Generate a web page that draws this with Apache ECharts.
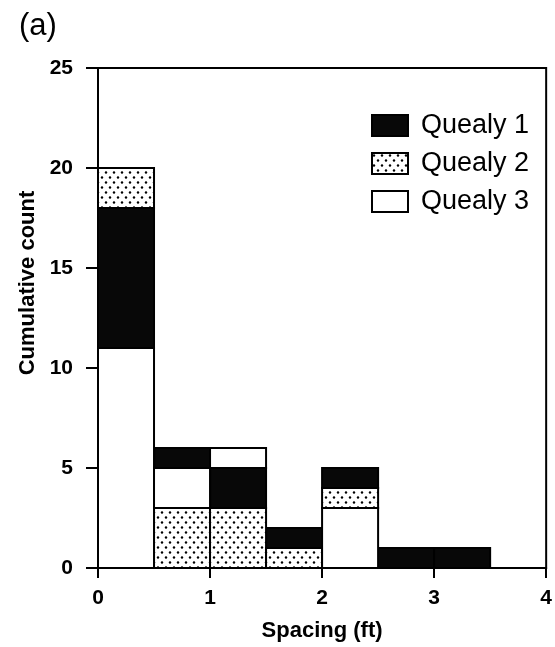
<!DOCTYPE html>
<html>
<head>
<meta charset="utf-8">
<script src="https://cdn.jsdelivr.net/npm/echarts@6/dist/echarts.min.js"></script>
<style>
  html, body { margin: 0; padding: 0; background: #fff; }
  #main { width: 555px; height: 647px; }
</style>
</head>
<body>
<div id="main"></div>
<script>
// bin left edges (ft), each bin is 0.5 ft wide
var bins = [0, 0.5, 1, 1.5, 2, 2.5, 3];
var binWidth = 0.5;
var seriesNames = ['Quealy 1', 'Quealy 2', 'Quealy 3'];
var quealy1 = [7, 1, 2, 1, 1, 1, 1];
var quealy2 = [2, 3, 3, 1, 1, 0, 0];
var quealy3 = [11, 2, 1, 0, 3, 0, 0];
// order the pieces are piled in each bin, bottom to top (1 = Quealy 1 ...)
var stackOrder = [[3, 1, 2], [2, 3, 1], [2, 1, 3], [2, 1, 3], [3, 2, 1], [1, 2, 3], [1, 2, 3]];
var xTicks = [0, 1, 2, 3, 4];
var yTicks = [0, 5, 10, 15, 20, 25];

var FONT = '"Liberation Sans", Arial, sans-serif';

function dotPattern() {
	var c = document.createElement('canvas');
	c.width = 8;
	c.height = 10;
	var g = c.getContext('2d');
	g.fillStyle = '#fff';
	g.fillRect(0, 0, 8, 10);
	g.fillStyle = '#000';
	g.beginPath();
	g.arc(2, 2.5, 1.2, 0, Math.PI * 2);
	g.fill();
	g.beginPath();
	g.arc(6, 7.5, 1.2, 0, Math.PI * 2);
	g.fill();
	return c;
}

var fills = ['#080808', { image: dotPattern(), repeat: 'repeat' }, '#ffffff'];
var counts = [quealy1, quealy2, quealy3];

// turn the counts into stacked pieces [x0, x1, y0, y1] for every series
var pieces = [[], [], []];
bins.forEach(function(b, i) {
	var base = 0;
	stackOrder[i].forEach(function(k) {
		var n = counts[k - 1][i];
		if (n > 0) {
			pieces[k - 1].push([b, b + binWidth, base, base + n]);
			base += n;
		}
	});
});

function renderPiece(fill) {
	return function(params, api) {
		var p0 = api.coord([api.value(0), api.value(2)]);
		var p1 = api.coord([api.value(1), api.value(3)]);
		return {
			type: 'rect',
			shape: { x: p0[0], y: p1[1], width: p1[0] - p0[0], height: p0[1] - p1[1] },
			style: { fill: fill, stroke: '#000', lineWidth: 2 }
		};
	};
}

var series = seriesNames.map(function(name, k) {
	return {
		name: name,
		type: 'custom',
		renderItem: renderPiece(fills[k]),
		encode: { x: [0, 1], y: [2, 3] },
		itemStyle: { color: fills[k], borderColor: '#000', borderWidth: 2 },
		data: pieces[k],
		z: 2
	};
});

var option = {
	animation: false,
	backgroundColor: '#fff',
	textStyle: { fontFamily: FONT },
	grid: {
		left: 98, right: 7, top: 68, bottom: 79,
		show: true, borderColor: '#000', borderWidth: 2
	},
	legend: {
		orient: 'vertical',
		left: 366,
		top: 107,
		itemWidth: 36,
		itemHeight: 21,
		itemGap: 11,
		icon: 'rect',
		data: seriesNames,
		itemStyle: { borderColor: '#000', borderWidth: 2 },
		textStyle: { fontSize: 27, color: '#000', fontFamily: FONT, padding: [0, 0, 0, 8] }
	},
	xAxis: {
		type: 'value',
		min: xTicks[0],
		max: xTicks[xTicks.length - 1],
		interval: 1,
		name: 'Spacing (ft)',
		nameLocation: 'middle',
		nameGap: 52,
		nameTextStyle: { fontSize: 22, fontWeight: 'bold', color: '#000', fontFamily: FONT },
		axisLine: { lineStyle: { color: '#000', width: 2 } },
		axisTick: { length: 10, lineStyle: { color: '#000', width: 2 } },
		axisLabel: { fontSize: 21, fontWeight: 'bold', color: '#000', margin: 20, fontFamily: FONT },
		splitLine: { show: false }
	},
	yAxis: {
		type: 'value',
		min: yTicks[0],
		max: yTicks[yTicks.length - 1],
		interval: 5,
		axisLine: { show: true, lineStyle: { color: '#000', width: 2 } },
		axisTick: { show: true, length: 12, lineStyle: { color: '#000', width: 2 } },
		axisLabel: { fontSize: 21, fontWeight: 'bold', color: '#000', margin: 25, fontFamily: FONT },
		splitLine: { show: false }
	},
	graphic: [
		{
			type: 'text', left: 19, top: 11,
			style: { text: '(a)', fontSize: 31, fill: '#000', fontFamily: FONT }
		},
		{
			type: 'text', x: 28, y: 283, rotation: Math.PI / 2,
			style: { text: 'Cumulative count', fontSize: 22, fontWeight: 'bold', fill: '#000', fontFamily: FONT,
				align: 'center', verticalAlign: 'middle' }
		}
	],
	series: series
};

var myChart = echarts.init(document.getElementById('main'));
myChart.setOption(option);
</script>
</body>
</html>
